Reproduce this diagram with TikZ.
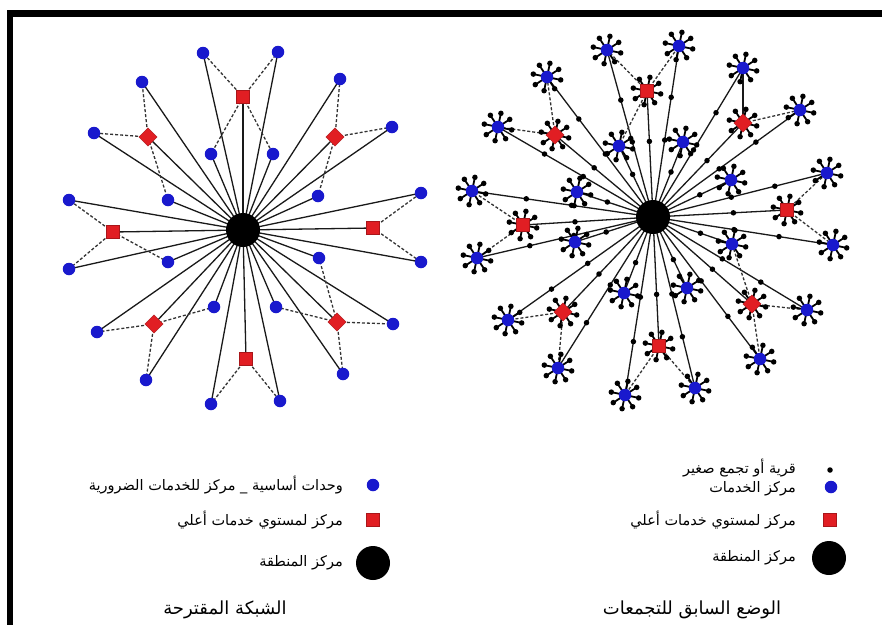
\documentclass[tikz,border=0pt]{standalone}
\usepackage{fontspec}
\newfontfamily\arabicfont[Script=Arabic]{DejaVu Sans}
\TeXXeTstate=1
\definecolor{nodeblue}{RGB}{25,25,205}
\definecolor{nodered}{RGB}{225,30,35}
\pgfdeclarelayer{bg}
\pgfsetlayers{bg,main}
\tikzset{
  bnode/.style={circle, fill=nodeblue, inner sep=0pt, minimum size=12.5pt},
  rnode/.style={rectangle, fill=nodered, draw=nodered!75!black, line width=0.4pt, inner sep=0pt, minimum size=13pt},
  hub/.style={circle, fill=black, inner sep=0pt, minimum size=34pt},
  village/.style={circle, fill=black, inner sep=0pt, minimum size=5.5pt},
  spoke/.style={line width=1.8pt, black},
  link/.style={line width=1.3pt, black!90},
  dlink/.style={line width=1.3pt, black!80, dash pattern=on 3pt off 2pt},
  lgtext/.style={anchor=east, font=\arabicfont\fontsize{14.5}{16}\selectfont, inner sep=0pt},
  ttl/.style={font=\arabicfont\fontsize{18}{22}\selectfont, inner sep=0pt},
  frame/.style={fill=black, draw=none}
}
\begin{document}
\begin{tikzpicture}[x=1pt,y=-1pt]
\useasboundingbox (0,0) rectangle (882,625);
% frame
\fill[frame] (7,10) rectangle (13,625);
\fill[frame] (7,10) rectangle (882,17);

% ================= LEFT: proposed network =================
\node[hub] (LC) at (243,230) {};
\foreach \n/\x/\y in {o1/203/53, o2/278/52, o3/340/79, o4/392/127, o5/421/193, o6/421/262,
  o7/393/324, o8/343/374, o9/280/401, o10/211/404, o11/146/380, o12/97/332,
  o13/69/269, o14/69/200, o15/94/133, o16/142/82,
  i1/211/154, i2/273/154, i3/318/196, i4/319/258, i5/276/307, i6/214/307, i7/168/262, i8/168/200}
  \node[bnode] (L\n) at (\x,\y) {};
\foreach \n/\x/\y/\r in {r1/243/97/0, r2/335/137/45, r3/373/228/0, r4/337/322/45,
  r5/246/359/0, r6/154/324/45, r7/113/232/0, r8/148/137/45}
  \node[rnode, rotate=\r] (L\n) at (\x,\y) {};
\begin{pgfonlayer}{bg}
  \foreach \n in {o1,o2,o3,o4,o5,o6,o7,o8,o9,o10,o11,o12,o13,o14,o15,o16,
    i1,i2,i3,i4,i5,i6,i7,i8,r1,r2,r3,r4,r5,r6,r7,r8}
    \draw[link] (LC.center) -- (L\n.center);
  \foreach \a/\b in {r1/o1, r1/o2, r1/i1, r1/i2, r2/o3, r2/o4, r2/i3, r3/o5, r3/o6,
    r4/o7, r4/o8, r4/i4, r4/i5, r5/o9, r5/o10, r6/o11, r6/o12, r6/i6,
    r7/o13, r7/o14, r7/i7, r8/o15, r8/o16, r8/i8}
    \draw[dlink] (L\a.center) -- (L\b.center);
\end{pgfonlayer}

% ================= RIGHT: previous situation =================
\node[hub] (RC) at (653,217) {};
\foreach \n/\x/\y in {p1/607/50, p2/679/46, p3/743/68, p4/800/110, p5/827/173, p6/833/245,
  p7/807/310, p8/760/359, p9/695/388, p10/625/395, p11/558/368, p12/508/320,
  p13/477/258, p14/472/191, p15/498/127, p16/547/77,
  q1/619/146, q2/683/142, q3/731/180, q4/732/244, q5/687/288, q6/624/293, q7/575/242, q8/577/192}
  \node[bnode] (R\n) at (\x,\y) {};
\foreach \n/\x/\y/\r in {s1/647/91/0, s2/743/123/45, s3/787/210/0, s4/752/304/45,
  s5/659/346/0, s6/563/312/45, s7/523/225/0, s8/555/135/45}
  \node[rnode, rotate=\r] (R\n) at (\x,\y) {};
\begin{pgfonlayer}{bg}
  \foreach \n in {p1,p2,p3,p4,p5,p6,p7,p8,p9,p10,p11,p12,p13,p14,p15,p16}
    \draw[link] (RC.center) -- node[village, pos=0.45] {} node[village, pos=0.7] {} (R\n.center);
  \foreach \n in {q1,q2,q3,q4,q5,q6,q7,q8,s1,s2,s3,s4,s5,s6,s7,s8}
    \draw[link] (RC.center) -- node[village, pos=0.6] {} (R\n.center);
  \foreach \a/\b in {s1/p1, s1/p2, s1/q1, s2/p4, s3/p5, s3/p6, s4/p7, s4/p8, s4/q4,
    s5/p9, s5/p10, s6/p11, s6/p12, s7/p13, s7/p14, s8/p15, s8/p16}
    \draw[dlink] (R\a.center) -- (R\b.center);
  \draw[link] (Rs2.center) -- (Rp3.center);
  \foreach \n in {p1,p2,p3,p4,p5,p6,p7,p8,p9,p10,p11,p12,p13,p14,p15,p16,
    q1,q2,q3,q4,q5,q6,q7,q8,s1,s2,s3,s4,s5,s6,s7,s8}
    \foreach \k in {0,...,7}
      \draw[spoke] (R\n.center) -- ++(\k*45+12:14) node[village] {};
\end{pgfonlayer}

% ================= LEGENDS =================
\node[bnode] (Lk1) at (373,485) {};
\node[rnode] (Lk2) at (373,520) {};
\node[hub] (Lk3) at (373,563) {};
\node[lgtext] (Lt1) at (343,485) {\beginR وحدات أساسية \_ مركز للخدمات الضرورية\endR};
\node[lgtext] (Lt2) at (343,520) {\beginR مركز لمستوي خدمات أعلي\endR};
\node[lgtext] (Lt3) at (343,563) {\beginR مركز المنطقة\endR};
\node[ttl] (Ltitle) at (225,610) {\beginR الشبكة المقترحة\endR};

\node[village] (Rk0) at (830,470) {};
\node[bnode] (Rk1) at (831,487) {};
\node[rnode] (Rk2) at (830,520) {};
\node[hub] (Rk3) at (829,558) {};
\node[lgtext] (Rt0) at (796,468) {\beginR قرية أو تجمع صغير\endR};
\node[lgtext] (Rt1) at (796,489) {\beginR مركز الخدمات\endR};
\node[lgtext] (Rt2) at (796,520) {\beginR مركز لمستوي خدمات أعلي\endR};
\node[lgtext] (Rt3) at (796,558) {\beginR مركز المنطقة\endR};
\node[ttl] (Rtitle) at (692,610) {\beginR الوضع السابق للتجمعات\endR};
\end{tikzpicture}
\end{document}
